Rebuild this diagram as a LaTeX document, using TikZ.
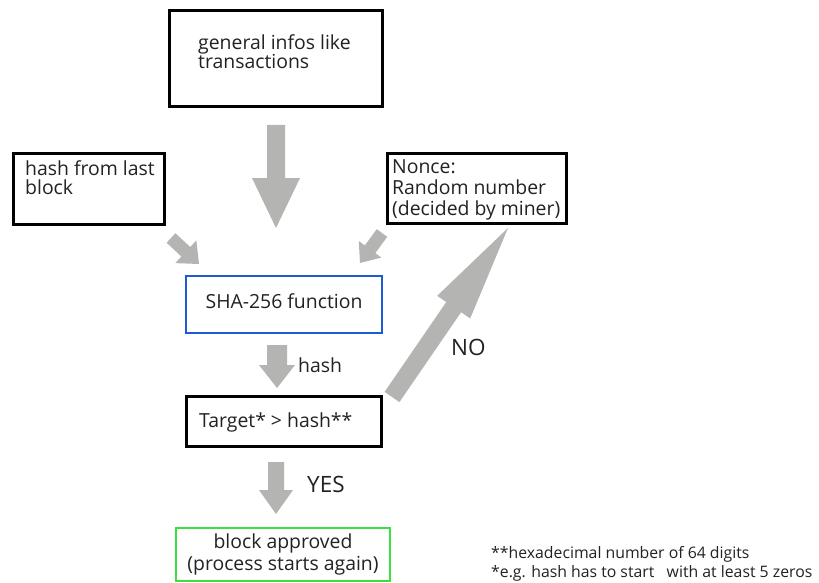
\documentclass[tikz,border=0pt]{standalone}
\usepackage{fontspec}
\setmainfont{Open Sans}
\usetikzlibrary{calc}
\definecolor{agray}{HTML}{B4B5B2}
\definecolor{txtc}{HTML}{222222}
\definecolor{sblue}{HTML}{1C5BD4}
\definecolor{sgreen}{HTML}{3CE03C}
% block arrow: tail, tip, shaft half width, head half width, head length
\newcommand\garrow[5]{%
  \coordinate (hb) at ($(#2)!#5!(#1)$);
  \fill[agray] ($(#1)!#3!90:(#2)$) -- ($(hb)!#3!90:(#2)$) -- ($(hb)!#4!90:(#2)$) -- (#2)
    -- ($(hb)!#4!-90:(#2)$) -- ($(hb)!#3!-90:(#2)$) -- ($(#1)!#3!-90:(#2)$) -- cycle;}
\begin{document}
\begin{tikzpicture}[x=1pt,y=-1pt,
  box/.style={draw=black, line width=3pt, inner sep=0pt},
  shabox/.style={draw=sblue, line width=2pt, inner sep=0pt},
  okbox/.style={draw=sgreen, line width=2.5pt, inner sep=0pt},
  t/.style={font=\fontsize{19.4}{19}\selectfont, text=txtc, inner sep=0pt, anchor=base west, align=left},
  big/.style={font=\fontsize{22.5}{24}\selectfont, text=txtc, inner sep=0pt, anchor=base west},
  note/.style={font=\fontsize{15.8}{19}\selectfont, text=txtc, inner sep=0pt, anchor=base west, align=left}]
\useasboundingbox (0,0) rectangle (819,583);
\fill[white] (0,0) rectangle (819,583);
% boxes
\node[box, minimum width=213pt, minimum height=96pt] (gen) at (276,58.5) {};
\node[box, minimum width=151pt, minimum height=71pt] (last) at (89,189) {};
\node[box, minimum width=179pt, minimum height=70pt] (nonce) at (477,188.5) {};
\node[shabox, minimum width=196pt, minimum height=57pt] (sha) at (284,304.5) {};
\node[box, minimum width=195pt, minimum height=50pt] (target) at (284,421.5) {};
\node[okbox, minimum width=214pt, minimum height=53pt] (ok) at (283,554.5) {};
% texts
\node[t] (gent) at (198,69) {general infos like\\transactions};
\node[t, font=\fontsize{19.4}{18.5}\selectfont] (lastt) at (25,194) {hash from last\\block};
\node[t, font=\fontsize{19.4}{21}\selectfont] (noncet) at (392,215) {Nonce:\\Random number\\(decided by miner)};
\node[t, anchor=base] (shat) at (284,308) {SHA-256 function};
\node[t] (targett) at (199,427) {Target* {>} hash**};
\node[t, font=\fontsize{19.4}{22}\selectfont, anchor=base, align=center] (okt) at (283,570) {block approved\\(process starts again)};
\node[t] (hashl) at (298,372) {hash};
\node[big] (nol) at (451,355) {NO};
\node[big] (yesl) at (307,492) {YES};
\node[note] (notes) at (491,577) {**hexadecimal number of 64 digits\\*e.g. hash has to start\ \ \ with at least 5 zeros};
% arrow end points
\coordinate (a1t) at (276,125); \coordinate (a1h) at (276,228);
\coordinate (a2t) at (171,238); \coordinate (a2h) at (199,264);
\coordinate (a3t) at (382,233); \coordinate (a3h) at (360,263);
\coordinate (a4t) at (277,345); \coordinate (a4h) at (277,388);
\coordinate (a5t) at (276,462); \coordinate (a5h) at (276,514);
\coordinate (a6t) at (392,397); \coordinate (a6h) at (508,228);
\garrow{a1t}{a1h}{9pt}{24pt}{50pt}
\garrow{a2t}{a2h}{6.5pt}{15.5pt}{18pt}
\garrow{a3t}{a3h}{6.5pt}{14pt}{17pt}
\garrow{a4t}{a4h}{10pt}{18pt}{23pt}
\garrow{a5t}{a5h}{8pt}{17pt}{24pt}
\garrow{a6t}{a6h}{9pt}{20pt}{96pt}
\end{tikzpicture}
\end{document}
